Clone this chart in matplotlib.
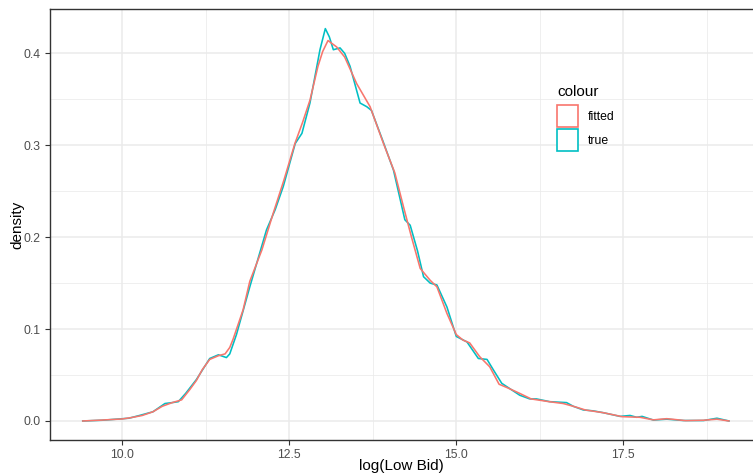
from matplotlib import pyplot as plt
from matplotlib.patches import Patch

# density curves (x = log(Low Bid), y = density)
fitted_x = [9.41, 9.7, 10.0, 10.13, 10.3, 10.46, 10.6, 10.75, 10.89, 11.01, 11.11, 11.2, 11.31,
            11.44, 11.54, 11.61, 11.66, 11.81, 11.91, 12.09, 12.26, 12.42, 12.585, 12.7, 12.81,
            12.93, 13.0, 13.08, 13.21, 13.33, 13.51, 13.71, 13.91, 14.08, 14.21, 14.33, 14.46,
            14.61, 14.71, 14.86, 15.0, 15.1, 15.2, 15.35, 15.5, 15.64, 15.77, 15.95, 16.12,
            16.39, 16.6, 16.75, 16.93, 17.2, 17.48, 17.75, 17.95, 18.15, 18.43, 18.7, 18.9, 19.08]
fitted_y = [0.0, 0.001, 0.0022, 0.0036, 0.006, 0.010, 0.016, 0.020, 0.023, 0.034, 0.044, 0.056, 0.067,
            0.071, 0.073, 0.080, 0.089, 0.121, 0.152, 0.186, 0.226, 0.262, 0.302, 0.325, 0.349,
            0.386, 0.402, 0.414, 0.407, 0.396, 0.367, 0.342, 0.302, 0.270, 0.233, 0.200, 0.166,
            0.153, 0.146, 0.117, 0.094, 0.088, 0.085, 0.070, 0.059, 0.040, 0.036, 0.030, 0.024,
            0.021, 0.019, 0.016, 0.012, 0.009, 0.0047, 0.004, 0.0012, 0.0025, 0.0004, 0.0008, 0.002, 0.0]

true_x = [9.41, 9.7, 9.92, 10.1, 10.26, 10.46, 10.64, 10.75, 10.84, 10.95, 11.11, 11.31, 11.44,
          11.56, 11.61, 11.71, 11.91, 12.16, 12.29, 12.41, 12.59, 12.69, 12.81, 12.96, 13.04,
          13.1, 13.16, 13.26, 13.33, 13.41, 13.56, 13.66, 13.73, 13.9, 14.06, 14.23, 14.31,
          14.42, 14.51, 14.61, 14.71, 14.86, 15.0, 15.16, 15.33, 15.46, 15.56, 15.68, 15.95,
          16.1, 16.2, 16.4, 16.65, 16.75, 16.9, 17.05, 17.2, 17.45, 17.6, 17.7, 17.78, 17.95,
          18.15, 18.4, 18.7, 18.9, 19.08]
true_y = [0.0, 0.0008, 0.002, 0.003, 0.006, 0.010, 0.019, 0.020, 0.021, 0.030, 0.045, 0.068, 0.072,
          0.069, 0.073, 0.094, 0.146, 0.208, 0.230, 0.255, 0.302, 0.313, 0.346, 0.404, 0.427,
          0.418, 0.404, 0.406, 0.400, 0.386, 0.346, 0.342, 0.338, 0.305, 0.273, 0.219, 0.213,
          0.185, 0.157, 0.150, 0.148, 0.124, 0.092, 0.086, 0.068, 0.067, 0.055, 0.041, 0.028,
          0.024, 0.024, 0.021, 0.020, 0.016, 0.012, 0.011, 0.009, 0.005, 0.006, 0.004, 0.005, 0.001,
          0.002, 0.0005, 0.0005, 0.003, 0.0]

x_ticks = [10.0, 12.5, 15.0, 17.5]
y_ticks = [0.0, 0.1, 0.2, 0.3, 0.4]
series_names = ['fitted', 'true']
series_colors = ['#F8766D', '#00BFC4']

plt.rcParams['font.family'] = ['Liberation Sans', 'DejaVu Sans']

fig = plt.figure(figsize=(7.53, 4.74), dpi=100)
ax = fig.add_axes([50 / 753, 1 - 440 / 474, 1 - 50 / 753, (440 - 9.3) / 474])

# grid like theme_bw
for v in [11.25, 13.75, 16.25, 18.75]:
    ax.axvline(v, color='#EBEBEB', lw=0.55, zorder=0)
for v in [0.05, 0.15, 0.25, 0.35]:
    ax.axhline(v, color='#EBEBEB', lw=0.55, zorder=0)
for v in x_ticks:
    ax.axvline(v, color='#EBEBEB', lw=1.1, zorder=0)
for v in y_ticks:
    ax.axhline(v, color='#EBEBEB', lw=1.1, zorder=0)

ax.plot(true_x, true_y, color=series_colors[1], lw=1.15, zorder=2)
ax.plot(fitted_x, fitted_y, color=series_colors[0], lw=1.15, zorder=3)

ax.set_xlim(8.92, 19.44)
ax.set_ylim(-0.0207, 0.448)
ax.set_xticks(x_ticks)
ax.set_xticklabels(['%.1f' % v for v in x_ticks])
ax.set_yticks(y_ticks)
ax.set_yticklabels(['%.1f' % v for v in y_ticks])
ax.tick_params(length=3.5, width=0.8, color='#333333', labelcolor='#4D4D4D', labelsize=8.8, pad=3)

for side in ['left', 'bottom', 'top']:
    ax.spines[side].set_color('#333333')
    ax.spines[side].set_linewidth(1.0)
ax.spines['right'].set_visible(False)

ax.set_xlabel('log(Low Bid)', fontsize=11)
ax.xaxis.set_label_coords(0.5, -0.043)
ax.set_ylabel('density', fontsize=11, labelpad=-0.5)

handles = [Patch(facecolor='white', edgecolor=c, linewidth=1.2) for c in series_colors]
leg = fig.legend(handles, series_names, title='colour', loc='upper left',
                 bbox_to_anchor=(557 / 753, 1 - 85 / 474), frameon=False,
                 fontsize=8.8, title_fontsize=11, handlelength=1.75, handleheight=2.5,
                 handletextpad=0.75, labelspacing=0.1, borderaxespad=0, borderpad=0)
leg._legend_box.align = 'left'
leg._legend_box.sep = 4

fig.savefig('out.png', dpi=100)
